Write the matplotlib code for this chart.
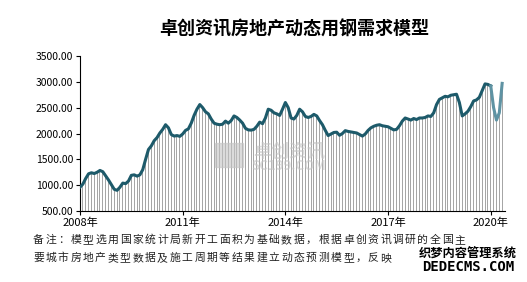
import matplotlib
matplotlib.use("Agg")
import matplotlib.pyplot as plt
import numpy as np

plt.rcParams['font.family'] = ['Noto Sans CJK SC', 'DejaVu Sans']

# monthly model values, Jan 2008 - May 2020
v2008 = [960, 1020, 1130, 1220, 1240, 1225, 1250, 1285, 1260, 1180, 1100, 1010]
v2009 = [920, 900, 960, 1040, 1030, 1080, 1190, 1200, 1175, 1200, 1300, 1500]
v2010 = [1690, 1760, 1860, 1920, 2010, 2080, 2170, 2110, 1980, 1950, 1960, 1945]
v2011 = [1990, 2060, 2090, 2200, 2350, 2470, 2560, 2500, 2420, 2380, 2280, 2200]
v2012 = [2180, 2170, 2180, 2240, 2200, 2250, 2340, 2310, 2260, 2200, 2100, 2070]
v2013 = [2065, 2080, 2140, 2220, 2190, 2300, 2470, 2450, 2400, 2380, 2350, 2470]
v2014 = [2600, 2500, 2300, 2280, 2350, 2470, 2420, 2330, 2310, 2330, 2370, 2340]
v2015 = [2250, 2170, 2060, 1960, 1990, 2020, 2025, 1965, 2000, 2055, 2040, 2030]
v2016 = [2020, 2010, 1980, 1950, 1990, 2060, 2110, 2140, 2160, 2170, 2150, 2140]
v2017 = [2130, 2100, 2070, 2080, 2150, 2240, 2300, 2280, 2260, 2290, 2270, 2300]
v2018 = [2300, 2310, 2340, 2330, 2400, 2560, 2660, 2690, 2720, 2710, 2740, 2750]
v2019 = [2760, 2600, 2340, 2380, 2430, 2520, 2630, 2650, 2700, 2830, 2960, 2950]
v2020 = [2920, 2500, 2260, 2400, 2970]

values = v2008 + v2009 + v2010 + v2011 + v2012 + v2013 + v2014 + v2015 + v2016 + v2017 + v2018 + v2019 + v2020
tick_labels = ['2008年', '2011年', '2014年', '2017年', '2020年']
title = '卓创资讯房地产动态用钢需求模型'
note1 = '备注：模型选用国家统计局新开工面积为基础数据，根据卓创资讯调研的全国主'
note2 = '要城市房地产类型数据及施工周期等结果建立动态预测模型，反映'

n = len(values)
x = np.arange(n)
y = np.array(values)

fig = plt.figure(figsize=(5.27, 2.82), dpi=100)
ax = fig.add_axes([80/527, 71/282, 425/527, 155/282])

ax.bar(x, y - 500, bottom=500, width=0.35, color='#a6a6a6', zorder=1)
split = 144  # Jan 2020 onwards drawn lighter
ax.plot(x[:split + 1], y[:split + 1], color='#1d5a6a', lw=2.2, zorder=3)
ax.plot(x[split:], y[split:], color='#5f93a3', lw=2.2, zorder=3)

ax.set_xlim(0, n)
ax.set_ylim(500, 3500)
ax.set_yticks(np.arange(500, 3501, 500))
ax.set_yticklabels(['%.2f' % t for t in np.arange(500, 3501, 500)], fontsize=7.5)
ax.set_xticks([0, 36, 72, 108, 144])
ax.set_xticklabels(tick_labels, fontsize=8)
for s in ['top', 'right']:
    ax.spines[s].set_visible(False)
for s in ['left', 'bottom']:
    ax.spines[s].set_color('black')
    ax.spines[s].set_linewidth(0.8)
ax.tick_params(axis='both', length=3, width=0.8, pad=2)

# faded logo watermark in the plot
fig.patches.append(plt.Rectangle((215/527, 1 - 167/282), 28/527, 24/282,
                                 transform=fig.transFigure, color='#c4c4c4', alpha=0.6, zorder=5))
fig.text(289/527, 1 - 151/282, '卓创资讯', ha='center', va='center', fontsize=13,
         color='#c4c4c4', alpha=0.6, fontweight='bold', zorder=5)
fig.text(289/527, 1 - 166/282, 'SC199.COM', ha='center', va='center', fontsize=9.5,
         color='#c4c4c4', alpha=0.6, fontweight='bold', zorder=5)

fig.text(294/527, 1 - 29/282, title, ha='center', va='center', fontsize=13, fontweight='bold')

# note, characters spread out like the original
for row, (line, ypix) in enumerate([(note1, 240), (note2, 258)]):
    for k, ch in enumerate(line):
        fig.text((33 + 12.4 * k) / 527, 1 - ypix / 282, ch, ha='left', va='center',
                 fontsize=7.8, color='#222222')

# site watermark bottom right
fig.text(468/527, 1 - 254/282, '织梦内容管理系统', ha='center', va='center', fontsize=8.8,
         fontweight='bold', color='black',
         bbox=dict(facecolor='white', edgecolor='none', pad=0.5))
fig.text(468/527, 1 - 267/282, 'DEDECMS.COM', ha='center', va='center', fontsize=10,
         family='DejaVu Sans Mono', fontweight='bold', color='black',
         bbox=dict(facecolor='white', edgecolor='none', pad=0.5))

fig.savefig('out.png', dpi=100)
